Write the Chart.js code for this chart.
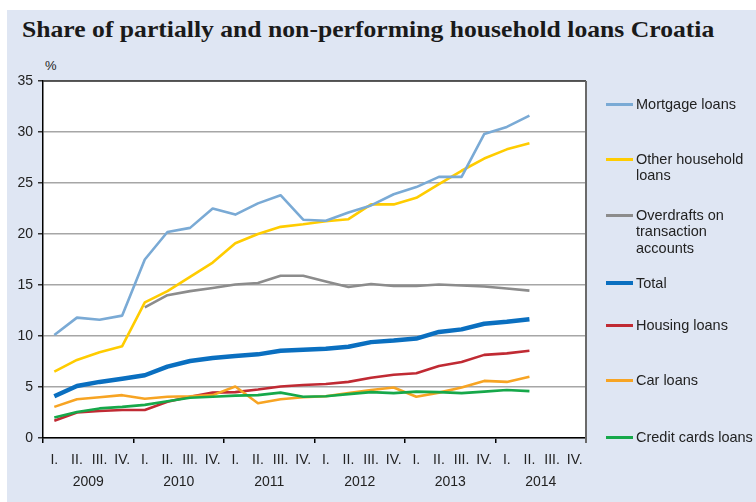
<!DOCTYPE html>
<html>
<head>
<meta charset="utf-8">
<script src="https://cdn.jsdelivr.net/npm/chart.js@4.4.1/dist/chart.umd.min.js"></script>
<style>
  html, body { margin:0; padding:0; background:#ffffff; width:756px; height:502px; overflow:hidden; }
  #panel { position:absolute; left:7px; top:10px; width:749px; height:492px; background:#dfe6f3; }
  #title { position:absolute; left:22px; top:17px; font-family:"Liberation Serif", serif; font-weight:bold; font-size:23px; color:#1a1a1a; white-space:nowrap; transform-origin:0 0; transform:scaleX(1.115); }
  #pct { position:absolute; left:45px; top:58px; font-family:"Liberation Sans", Arial, sans-serif; font-size:13px; color:#222; }
  #chartwrap { position:absolute; left:0; top:0; width:756px; height:502px; }
  #legend { position:absolute; left:606px; top:0; font-family:"Liberation Sans", Arial, sans-serif; font-size:14.5px; color:#222; }
  .item { position:absolute; left:0; width:150px; }
  .sw { position:absolute; left:0; width:27px; }
  .tx { position:absolute; left:30px; line-height:16.7px; white-space:nowrap; }
</style>
</head>
<body>
<div id="panel"></div>
<div id="title">Share of partially and non-performing household loans Croatia</div>
<div id="pct">%</div>
<div id="chartwrap"><canvas id="c" width="756" height="502"></canvas></div>
<div id="legend"></div>
<script>
const quarterLabels = ["I.","II.","III.","IV.","I.","II.","III.","IV.","I.","II.","III.","IV.","I.","II.","III.","IV.","I.","II.","III.","IV.","I.","II.","III.","IV."];
const yearLabels = ["2009","2010","2011","2012","2013","2014"];
const yTicks = [0,5,10,15,20,25,30,35];

const mortgage = [10.1,11.8,11.6,12.0,17.5,20.2,20.6,22.5,21.9,23.0,23.8,21.4,21.3,22.1,22.8,23.9,24.6,25.6,25.6,29.8,30.5,31.6];
const otherHousehold = [6.5,7.65,8.4,9.0,13.3,14.4,15.8,17.2,19.1,20.0,20.7,20.95,21.25,21.45,22.9,22.9,23.55,24.9,26.2,27.4,28.3,28.9];
const overdrafts = [null,null,null,null,12.8,14.0,14.4,14.7,15.05,15.2,15.9,15.9,15.35,14.8,15.1,14.9,14.9,15.05,14.95,14.85,14.65,14.45];
const total = [4.1,5.1,5.5,5.8,6.15,7.0,7.55,7.85,8.05,8.2,8.55,8.65,8.75,8.95,9.4,9.55,9.75,10.4,10.65,11.2,11.4,11.65];
const housing = [1.7,2.5,2.65,2.75,2.75,3.55,4.05,4.45,4.5,4.75,5.05,5.2,5.3,5.5,5.9,6.2,6.35,7.05,7.45,8.15,8.3,8.55];
const car = [3.05,3.8,4.0,4.2,3.85,4.05,4.1,4.2,5.05,3.4,3.8,4.0,4.1,4.4,4.7,4.95,4.05,4.45,4.95,5.6,5.5,6.0];
const creditCards = [2.0,2.55,2.9,3.05,3.25,3.6,3.95,4.05,4.15,4.2,4.45,4.05,4.1,4.3,4.5,4.4,4.55,4.5,4.4,4.55,4.7,4.6];

const seriesNames = ["Mortgage loans","Other household loans","Overdrafts on transaction accounts","Total","Housing loans","Car loans","Credit cards loans"];
const seriesData = [mortgage, otherHousehold, overdrafts, total, housing, car, creditCards];
const seriesColors = ["#7aaad5","#ffcc00","#8c8c8c","#0a6fc0","#c02a33","#f7a423","#16a84a"];
const seriesWidths = [2.6,2.6,2.6,4.5,2.6,2.6,2.6];
const seriesOrder = [5,6,4,0,3,2,1];

const legendText = [["Mortgage loans"],["Other household","loans"],["Overdrafts on","transaction","accounts"],["Total"],["Housing loans"],["Car loans"],["Credit cards loans"]];
const legendY = [104,159,215,283,325,380,437];

const legend = document.getElementById('legend');
seriesNames.forEach((n,i)=>{
  const it = document.createElement('div'); it.className='item'; it.style.top = legendY[i]+'px';
  const sw = document.createElement('div'); sw.className='sw';
  const h = seriesWidths[i] > 3 ? 4 : 3;
  sw.style.height = h+'px'; sw.style.top = (-h/2)+'px'; sw.style.background = seriesColors[i];
  const tx = document.createElement('div'); tx.className='tx'; tx.style.top='-8.5px';
  tx.innerHTML = legendText[i].join('<br>');
  it.appendChild(sw); it.appendChild(tx); legend.appendChild(it);
});

const frame = {
  id:'frame',
  beforeDraw(chart){
    const {ctx, chartArea:a} = chart;
    ctx.save(); ctx.fillStyle='#ffffff'; ctx.fillRect(a.left,a.top,a.right-a.left,a.bottom-a.top); ctx.restore();
  },
  afterDraw(chart){
    const {ctx, chartArea:a} = chart;
    ctx.save();
    ctx.strokeStyle='#333333'; ctx.lineWidth=1.5;
    ctx.beginPath(); ctx.moveTo(a.left,a.top); ctx.lineTo(a.right,a.top); ctx.stroke();
    ctx.strokeStyle='#6a6a6a'; ctx.lineWidth=2;
    ctx.beginPath(); ctx.moveTo(a.right,a.top); ctx.lineTo(a.right,a.bottom+5); ctx.stroke();
    ctx.restore();
  }
};

const tickFont = {family:'"Liberation Sans", Arial, sans-serif', size:14};

new Chart(document.getElementById('c'), {
  type:'line',
  data:{
    labels: quarterLabels,
    datasets: seriesNames.map((n,i)=>({
      label:n, data:seriesData[i], borderColor:seriesColors[i], backgroundColor:seriesColors[i],
      borderWidth:seriesWidths[i], pointRadius:0, tension:0, fill:false, order:seriesOrder[i],
      borderJoinStyle:'round', borderCapStyle:'butt', xAxisID:'x', yAxisID:'y'
    }))
  },
  options:{
    responsive:false, animation:false, devicePixelRatio:1,
    layout:{padding:{left:0,right:170,top:81,bottom:0}},
    plugins:{legend:{display:false}, tooltip:{enabled:false}, title:{display:false}},
    scales:{
      x:{
        type:'category', position:'bottom', offset:true,
        grid:{offset:true, drawOnChartArea:false, drawTicks:true, tickLength:5, lineWidth:1.5,
          color:(c)=> (c.index===undefined || c.index%4===0) ? '#000000' : 'rgba(0,0,0,0)'},
        border:{display:true, color:'#000000', width:1.5},
        ticks:{autoSkip:false, maxRotation:0, minRotation:0, font:tickFont, color:'#222', padding:9},
        afterFit:(s)=>{ s.height = 30; }
      },
      x2:{
        type:'category', labels:yearLabels, position:'bottom', offset:true,
        grid:{display:false, drawTicks:false}, border:{display:false},
        ticks:{autoSkip:false, maxRotation:0, minRotation:0, font:tickFont, color:'#222', padding:6},
        afterFit:(s)=>{ s.height = 34; }
      },
      y:{
        type:'linear', min:0, max:35,
        afterBuildTicks:(s)=>{ s.ticks = yTicks.map(v=>({value:v})); },
        grid:{color:'#a6a6a6', lineWidth:1.5, tickLength:5, tickColor:'#333', drawTicks:true},
        border:{display:true, color:'#000000', width:1.5},
        ticks:{font:tickFont, color:'#222', padding:5},
        afterFit:(s)=>{ s.width = 43; }
      }
    }
  },
  plugins:[frame]
});
</script>
</body>
</html>
